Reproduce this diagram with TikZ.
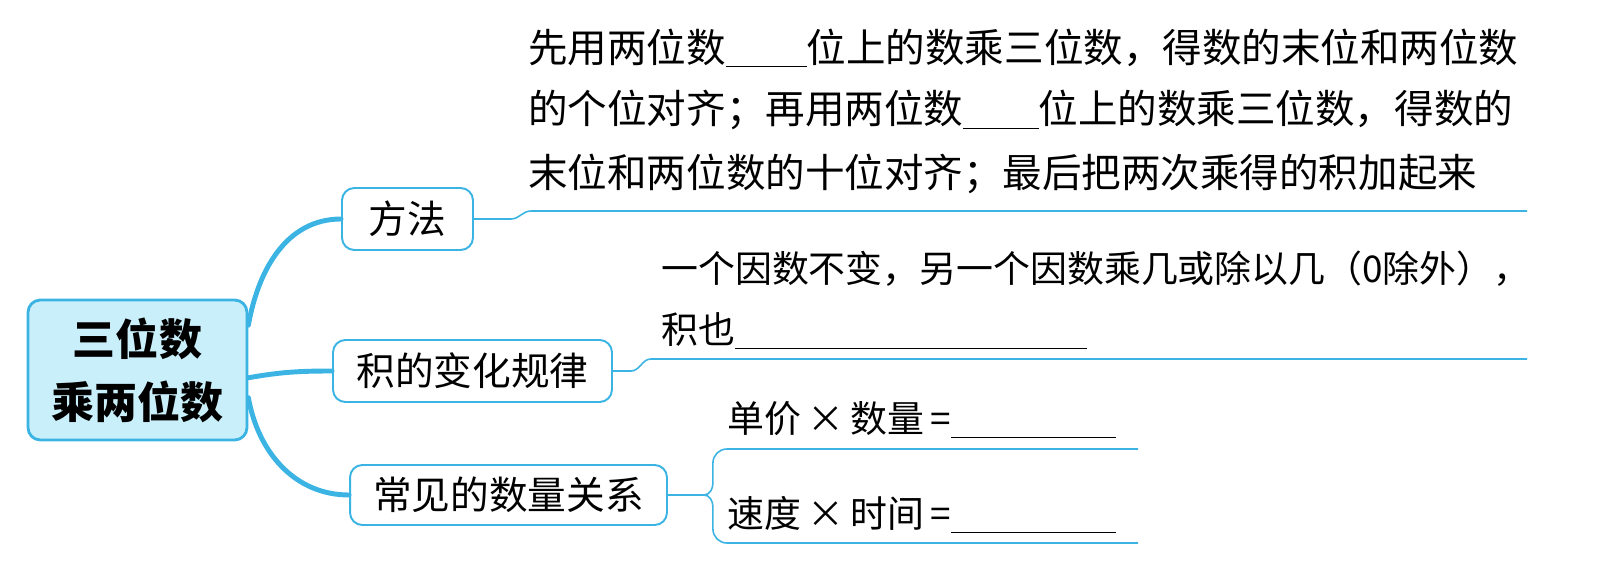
\documentclass[tikz,border=0pt]{standalone}
\usepackage{fontspec}
\newfontfamily\cjk{Noto Sans CJK SC}
\definecolor{mapblue}{HTML}{3BB4E4}
\definecolor{rootfill}{HTML}{C9EFFA}
\tikzset{
  topic/.style={draw=mapblue,line width=1.1pt,rounded corners=7pt,fill=white,inner sep=0pt,
    font=\cjk\fontsize{22}{26}\selectfont},
  branch/.style={mapblue,line width=2.8pt,line cap=round},
  twig/.style={mapblue,line width=0.9pt},
  txt/.style={anchor=west,inner sep=0pt,font=\cjk\fontsize{22.5}{26}\selectfont},
  smalltxt/.style={anchor=west,inner sep=0pt,font=\cjk\fontsize{21}{25}\selectfont},
}
\newcommand{\blank}[1]{\rule[-3pt]{#1}{0.7pt}}

\begin{document}
\begin{tikzpicture}[x=0.02cm,y=0.02cm]
  \useasboundingbox (0,0) rectangle (1607,562);
  % root topic
  \node[topic,fill=rootfill,line width=1.6pt,minimum width=4.38cm,minimum height=2.8cm,align=center,
    font=\cjk\bfseries\fontsize{24.5}{36}\selectfont] (root) at (137.5,192) {三位数\\乘两位数};
  % the three sub topics
  \node[topic,minimum width=2.62cm,minimum height=1.24cm] (fangfa) at (407.5,343) {方法};
  \node[topic,minimum width=5.58cm,minimum height=1.24cm] (guilv) at (472.5,191) {积的变化规律};
  \node[topic,minimum width=6.34cm,minimum height=1.2cm] (guanxi) at (508.5,67) {常见的数量关系};
  \draw[branch] (root.22) to[out=80,in=180] (fangfa.west);
  \draw[branch] (root.-4) to[out=10,in=180] (guilv.west);
  \draw[branch] (root.-14) to[out=-80,in=180] (guanxi.west);

  % method
  \node[txt] (m1) at (528,514) {先用两位数\blank{46pt}位上的数乘三位数，得数的末位和两位数};
  \node[txt] (m2) at (528,452) {的个位对齐；再用两位数\blank{43pt}位上的数乘三位数，得数的};
  \node[txt] (m3) at (528,388) {末位和两位数的十位对齐；最后把两次乘得的积加起来};
  \coordinate (e1) at (1527,351);
  \draw[twig] (fangfa.east) -- ++(37,0) to[out=0,in=180] ++(20,8) -- (e1);

  % rule of the product
  \node[smalltxt] (r1) at (661,293) {一个因数不变，另一个因数乘几或除以几（0除外），};
  \node[smalltxt] (r2) at (661,231) {积也\blank{200pt}};
  \coordinate (e2) at (1527,203);
  \draw[twig] (guilv.east) -- ++(18,0) to[out=0,in=180] ++(20,12) -- (e2);

  % quantity relations
  \node[smalltxt] (q1) at (727,142) {单价\,×\,数量\,=\blank{94pt}};
  \node[smalltxt] (q2) at (727,47) {速度\,×\,时间\,=\blank{94pt}};
  \coordinate (e3) at (1138,113);
  \coordinate (e4) at (1138,19);
  \draw[twig] (guanxi.east) -- ++(36,0) coordinate (fork);
  \draw[twig] (fork) to[out=0,in=-90] ++(9,12) -- ++(0,20) to[out=90,in=180] ++(14,14) -- (e3);
  \draw[twig] (fork) to[out=0,in=90] ++(9,-12) -- ++(0,-22) to[out=-90,in=180] ++(14,-14) -- (e4);
\end{tikzpicture}
\end{document}
